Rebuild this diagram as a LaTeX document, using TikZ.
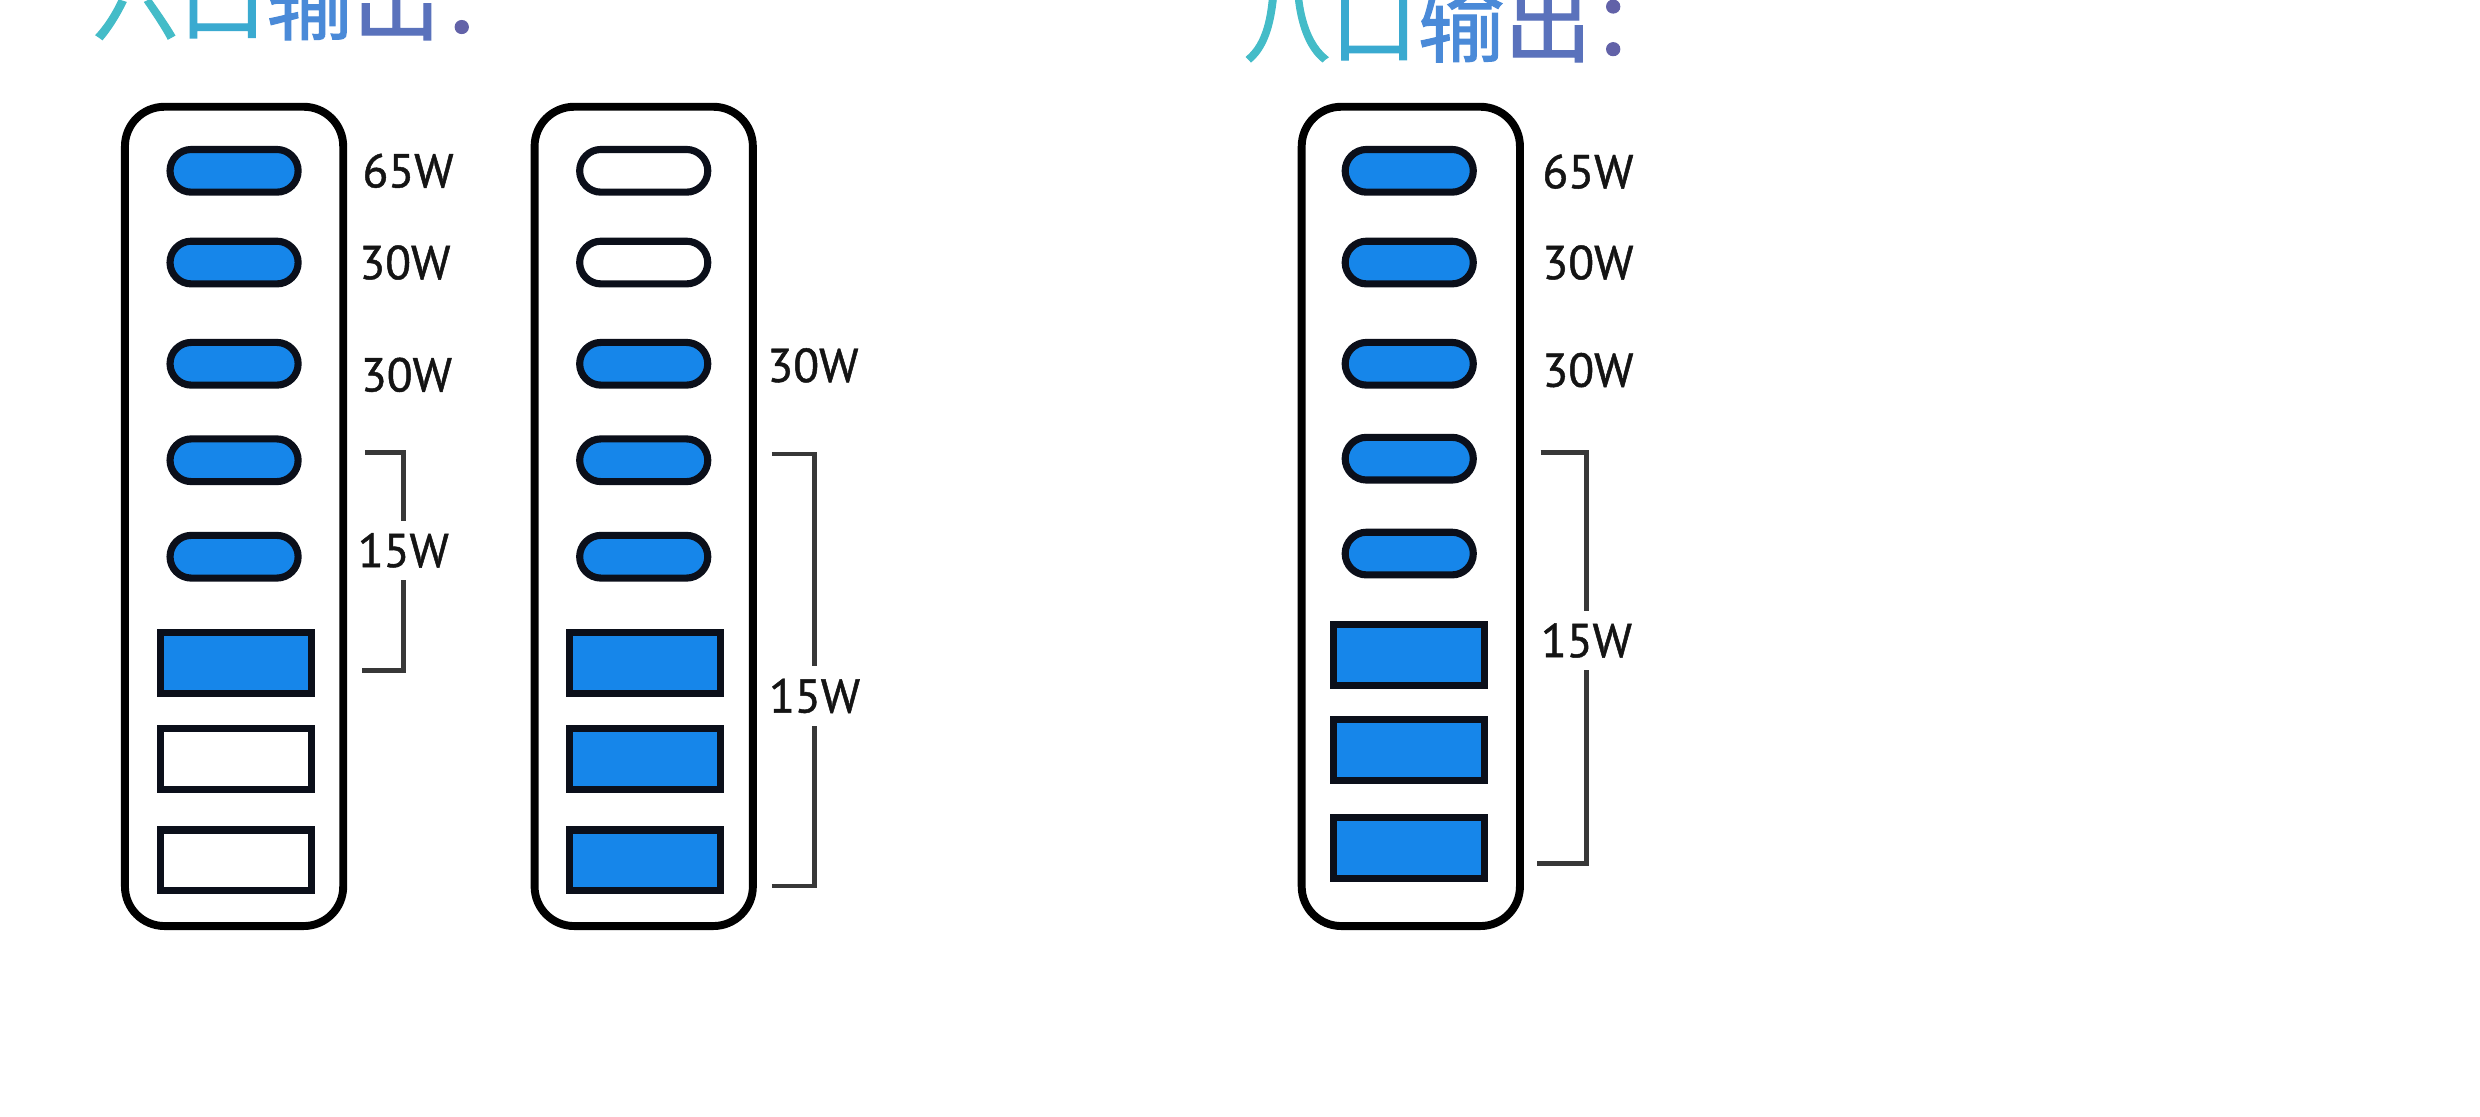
\documentclass[tikz,border=0pt]{standalone}
\usepackage{fontspec}
\setmainfont{PT Sans}[FakeBold=1.2]
\newfontfamily\wattfont{PT Sans}[FakeBold=1.0]
\newfontfamily\cjk{Noto Sans CJK SC}[FakeBold=1.2]
\definecolor{portblue}{HTML}{1686EA}
\definecolor{portedge}{HTML}{0B0F1A}
\definecolor{tA}{HTML}{44BCC8}
\definecolor{tB}{HTML}{3AAAD0}
\definecolor{tC}{HTML}{4A8AD8}
\definecolor{tD}{HTML}{5A72BC}
\definecolor{tE}{HTML}{6262A8}
\begin{document}
\begin{tikzpicture}[x=1pt,y=-1pt,
  device/.style={draw=black, line width=5pt, rounded corners=25pt, minimum width=138pt, minimum height=518pt, inner sep=0pt, fill=white},
  cport/.style={draw=portedge, line width=4.5pt, rounded corners=13.5pt, minimum width=81pt, minimum height=27pt, inner sep=0pt},
  aport/.style={draw=portedge, line width=4.5pt, minimum width=95.5pt, minimum height=38.5pt, inner sep=0pt},
  on/.style={fill=portblue}, off/.style={fill=white},
  watt/.style={anchor=west, inner sep=0pt, text height=21pt, text depth=0pt, font=\wattfont\fontsize{30}{36}\selectfont, text=black!92},
  group/.style={inner xsep=0pt, inner ysep=8pt, text height=21pt, text depth=0pt, font=\wattfont\fontsize{30}{36}\selectfont, text=black!92},
  bracket/.style={draw=black!78, line width=2.8pt},
  title/.style={anchor=base west, inner sep=0pt, font=\cjk\fontsize{55}{60}\selectfont}
]
\useasboundingbox[fill=white] (0,0) rectangle (1568,706);

% titles
\node[title] (t1) at (58,21) {\textcolor{tA}{六}\textcolor{tB}{口}\textcolor{tC}{输}\textcolor{tD}{出}\textcolor{tE}{：}};
\node[title] (t2) at (786,35) {\textcolor{tA}{八}\textcolor{tB}{口}\textcolor{tC}{输}\textcolor{tD}{出}\textcolor{tE}{：}};

% left device
\node[device] (L) at (148,326.5) {};
\node[cport,on] (L1) at (148,108) {};
\node[cport,on] (L2) at (148,166) {};
\node[cport,on] (L3) at (148,230) {};
\node[cport,on] (L4) at (148,291) {};
\node[cport,on] (L5) at (148,352) {};
\node[aport,on] (L6) at (149,419) {};
\node[aport,off] (L7) at (149,480) {};
\node[aport,off] (L8) at (149,544) {};
\node[watt] (Lw1) at (229,108) {65W};
\node[watt] (Lw2) at (227,166) {30W};
\node[watt] (Lw3) at (228,237) {30W};
\node[group] (Lg) at (255,348) {15W};
\coordinate (LbA) at (231,286);
\coordinate (LbB) at (229,424);
\draw[bracket] (LbA) -| (Lg.north);
\draw[bracket] (LbB) -| (Lg.south);

% middle device
\node[device] (M) at (407,326.5) {};
\node[cport,off] (M1) at (407,108) {};
\node[cport,off] (M2) at (407,166) {};
\node[cport,on] (M3) at (407,230) {};
\node[cport,on] (M4) at (407,291) {};
\node[cport,on] (M5) at (407,352) {};
\node[aport,on] (M6) at (408,419) {};
\node[aport,on] (M7) at (408,480) {};
\node[aport,on] (M8) at (408,544) {};
\node[watt] (Mw1) at (485,231) {30W};
\node[group] (Mg) at (515,440) {15W};
\coordinate (MbA) at (488,287);
\coordinate (MbB) at (488,560);
\draw[bracket] (MbA) -| (Mg.north);
\draw[bracket] (MbB) -| (Mg.south);

% right device
\node[device] (R) at (892,326.5) {};
\node[cport,on] (R1) at (891,108) {};
\node[cport,on] (R2) at (891,166) {};
\node[cport,on] (R3) at (891,230) {};
\node[cport,on] (R4) at (891,290) {};
\node[cport,on] (R5) at (891,350) {};
\node[aport,on] (R6) at (891,414) {};
\node[aport,on] (R7) at (891,474) {};
\node[aport,on] (R8) at (891,536) {};
\node[watt] (Rw1) at (975,108.5) {65W};
\node[watt] (Rw2) at (975,166) {30W};
\node[watt] (Rw3) at (975,234) {30W};
\node[group] (Rg) at (1003,405) {15W};
\coordinate (RbA) at (974,286);
\coordinate (RbB) at (972,546);
\draw[bracket] (RbA) -| (Rg.north);
\draw[bracket] (RbB) -| (Rg.south);
\end{tikzpicture}
\end{document}
